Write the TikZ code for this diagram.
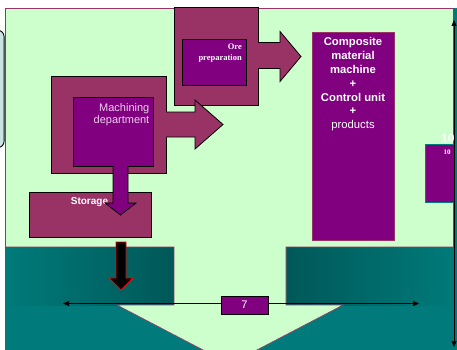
\documentclass[tikz,border=0pt]{standalone}
\usepackage{fontspec}
\setmainfont{Liberation Serif}
\setsansfont{Liberation Sans}
\usetikzlibrary{
  arrows.meta,
  calc
}
\definecolor{meadow}{RGB}{204,255,204}
\definecolor{deptmaroon}{RGB}{153,51,102}
\definecolor{deptpurple}{RGB}{128,0,128}
\definecolor{seateal}{RGB}{0,122,122}
\definecolor{deepteal}{RGB}{0,88,88}
\definecolor{sideblue}{RGB}{200,228,228}
\definecolor{paletext}{RGB}{240,205,240}
\tikzset{
  outerbox/.style={draw=black,line width=0.8pt,fill=deptmaroon,
    inner sep=0pt,outer sep=0pt,anchor=north west},
  innerbox/.style={draw=black,line width=0.8pt,fill=deptpurple,
    inner sep=0pt,outer sep=0pt,anchor=north west},
  plainbox/.style={draw=deptmaroon,line width=0.6pt,fill=deptpurple,
    inner sep=0pt,outer sep=0pt,anchor=north west},
  boxtext/.style={text=white,inner sep=0pt,font=\sffamily\bfseries},
  edge/.style={draw=deptmaroon,line width=0.6pt},
  flowfill/.style={fill=deptmaroon},
  flowline/.style={draw=black,line width=0.8pt,line join=miter},
  dimline/.style={{Triangle[length=6pt,width=5pt]}-{Triangle[length=6pt,width=5pt]},
    draw=black,line width=0.6pt}
}
\begin{document}
\begin{tikzpicture}[x=1pt,y=-1pt]
  \useasboundingbox (0,0) rectangle (457,350);

  % backdrop
  \node[draw=black,line width=0.9pt,fill=sideblue,rounded corners=6pt,
    minimum width=24pt,minimum height=117pt,inner sep=0pt,
    anchor=north east] (side) at (4.5,30) {};
  \node[draw=deptmaroon,line width=0.6pt,fill=meadow,inner sep=0pt,
    minimum width=449pt,minimum height=345pt,anchor=north west] (floor) at (5,8) {};
  \fill[seateal] (453,8) rectangle (458,352);

  % water and funnel
  \fill[seateal] (5,247) rectangle (456,352);
  \shade[left color=seateal,right color=deepteal] (5,247) rectangle (174,305);
  \shade[left color=deepteal,right color=seateal] (286,247) rectangle (456,305);
  \fill[meadow] (174,246.6) -- (286,246.6) -- (286,305) -- (343,305)
    -- (230,364) -- (117,305) -- (174,305) -- cycle;
  \draw[edge] (5,247) -| (174,305) -- (117,305) -- (230,364)
    -- (343,305) -- (286,305) |- (456,247);

  % composite machine and the small unit
  \node[plainbox,minimum width=82pt,minimum height=208pt] (comp) at (312,32) {};
  \node[boxtext,anchor=north,align=center,
    font=\sffamily\bfseries\fontsize{11.3}{13.8}\selectfont] (complab) at (353,37.5)
    {Composite\\material\\machine\\+\\Control unit\\+\\{\mdseries products}};
  \node[plainbox,draw=seateal,minimum width=30pt,minimum height=58pt] (unit) at (425,144) {};
  \node[boxtext,font=\rmfamily\bfseries\fontsize{7}{8}\selectfont,anchor=base]
    (unitlab) at (447,154.5) {10};
  \node[boxtext,font=\sffamily\bfseries\fontsize{12}{14}\selectfont,anchor=base west]
    (unittop) at (441,142.5) {10};

  % ore preparation
  \node[outerbox,minimum width=84pt,minimum height=98pt] (ore) at (174,7) {};
  \fill[flowfill] ($(ore.east)+(-1,-13.5)$) -- ++(23,0) -- ++(0,-11) -- ++(21,25)
    -- ++(-21,25) -- ++(0,-13) -- ++(-23,0) -- cycle;
  \draw[flowline] ($(ore.east)+(0,-13.5)$) -- ++(22,0) -- ++(0,-11) -- ++(21,25)
    -- ++(-21,25) -- ++(0,-13) -- ++(-22,0);
  \node[innerbox,minimum width=64pt,minimum height=46pt] (orein) at (182,39) {};
  \node[boxtext,anchor=north east,align=right,
    font=\rmfamily\bfseries\fontsize{8.5}{11}\selectfont] (orelab) at (242,43.5)
    {Ore\\preparation};

  % machining department
  \node[outerbox,minimum width=115pt,minimum height=97pt] (mach) at (51,76) {};
  \fill[flowfill] ($(mach.east)+(-1,-12.5)$) -- ++(30,0) -- ++(0,-12) -- ++(28,24.5)
    -- ++(-28,24.5) -- ++(0,-12) -- ++(-30,0) -- cycle;
  \draw[flowline] ($(mach.east)+(0,-12.5)$) -- ++(29,0) -- ++(0,-12) -- ++(28,24.5)
    -- ++(-28,24.5) -- ++(0,-12) -- ++(-29,0);
  \node[innerbox,minimum width=80pt,minimum height=69pt] (machin) at (73,97) {};
  \node[text=paletext,inner sep=0pt,anchor=north east,align=right,
    font=\sffamily\fontsize{11}{12}\selectfont] (machlab) at (149.5,103)
    {Machining\\department};

  % storage
  \node[outerbox,minimum width=122pt,minimum height=45pt] (store) at (29,192) {};
  \node[boxtext,font=\sffamily\bfseries\fontsize{10}{12}\selectfont,anchor=base]
    (storelab) at (89.5,204.5) {Storage};
  \filldraw[fill=deptpurple,draw=black,line width=0.8pt,line join=miter]
    (machin.south) -- ++(0,37) -- ++(-8,0) -- ++(15.5,12) -- ++(15.5,-12)
    -- ++(-8,0) -- ++(0,-37);

  % outlet
  \coordinate (drop) at (116,242);
  \filldraw[fill=black,draw=red,line width=0.8pt,line join=miter]
    (drop) -- ++(0,36) -- ++(-7,0) -- ++(12,12) -- ++(12,-12) -- ++(-7,0)
    -- ++(0,-36) -- cycle;

  % dimensions
  \coordinate (hl) at (63,303.5);
  \coordinate (hr) at (419,303.5);
  \coordinate (vt) at (454,20);
  \coordinate (vb) at (454,347);
  \draw[dimline] (hl) -- (hr);
  \draw[dimline] (vt) -- (vb);
  \node[draw=black,line width=0.8pt,fill=deptpurple,text=white,
    minimum width=47pt,minimum height=18pt,inner sep=0pt,
    font=\sffamily\fontsize{11}{12}\selectfont] (seven) at (244.5,305) {7};
\end{tikzpicture}
\end{document}
